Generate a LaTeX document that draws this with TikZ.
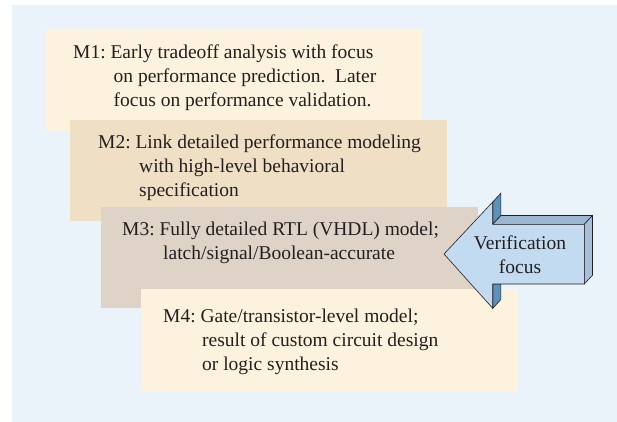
\documentclass[tikz,border=0pt]{standalone}
\usepackage{fontspec}
\setmainfont{Liberation Serif}
\frenchspacing
\definecolor{paleblue}{HTML}{EAF2FA}
\definecolor{cream}{HTML}{FDF2DD}
\definecolor{tan}{HTML}{EFE0C5}
\definecolor{greige}{HTML}{DFD3C7}
\definecolor{arrowfront}{HTML}{C3DBF1}
\definecolor{arrowdark}{HTML}{5A92BB}
\definecolor{arrowtop}{HTML}{9AB6D0}
\definecolor{arrowside}{HTML}{A7BFD8}
\definecolor{inkgray}{HTML}{231F20}

\begin{document}
\begin{tikzpicture}[x=1pt,y=-1pt,
    lbl/.style={anchor=base west,align=left,inner sep=0pt,text=inkgray,
      font=\rmfamily\fontsize{19.5}{24}\selectfont},
    face/.style={draw=inkgray,line width=0.6pt,line join=miter}]
		\useasboundingbox (0,0) rectangle (617,422);
		\fill[paleblue] (12,5) rectangle (617,422);
		
		% Model levels (labels placed by their last baseline)
		\fill[cream] (45,30) rectangle (422,131);
		\node[lbl] (m1) at (73,107) {M1: Early tradeoff analysis with focus\\
			\hspace*{40.5pt}on performance prediction.\ \ Later\\
			\hspace*{40.5pt}focus on performance validation.};
		
		\fill[tan] (70,120) rectangle (447,221);
		\node[lbl] (m2) at (98,196) {M2: Link detailed performance modeling\\
			\hspace*{41pt}with high-level behavioral\\
			\hspace*{41pt}specification};
		
		\fill[greige] (101,207) rectangle (478,308);
		\node[lbl] (m3) at (122,259) {M3: Fully detailed RTL (VHDL) model;\\
			\hspace*{41pt}latch/signal/Boolean-accurate};
		
		\fill[cream] (141,289) rectangle (518,391);
		\node[lbl] (m4) at (163,370) {M4: Gate/transistor-level model;\\
			\hspace*{39pt}result of custom circuit design\\
			\hspace*{39pt}or logic synthesis};
		
		% Arrow, front face and depth
		\coordinate (tip) at (444,254);
		\coordinate (headtop) at (492.7,202);
		\coordinate (shafttl) at (492.7,224.3);
		\coordinate (shafttr) at (584.3,224.3);
		\coordinate (shaftbr) at (584.3,284);
		\coordinate (shaftbl) at (492.7,284);
		\coordinate (headbot) at (492.7,308.3);
		\def\dep{++(8.2,-8.8)}
		
		\filldraw[face,fill=arrowdark] (headtop) -- \dep -- ([shift={(8.2,-8.8)}]shafttl) -- (shafttl) -- cycle;
		\filldraw[face,fill=arrowtop] (shafttl) -- ([shift={(8.2,-8.8)}]shafttl) -- ([shift={(8.2,-8.8)}]shafttr) -- (shafttr) -- cycle;
		\filldraw[face,fill=arrowside] (shafttr) -- ([shift={(8.2,-8.8)}]shafttr) -- ([shift={(8.2,-8.8)}]shaftbr) -- (shaftbr) -- cycle;
		\filldraw[face,fill=arrowdark] (shaftbl) -- (headbot) -- ([shift={(8.2,-8.8)}]headbot) -- (500.9,284) -- cycle;
		\filldraw[face,fill=arrowfront] (tip) -- (headtop) -- (shafttl) -- (shafttr) -- (shaftbr) -- (shaftbl) -- (headbot) -- cycle;
		\node[lbl,anchor=base,align=center] (verif) at (520,273) {Verification\\focus};
		
\end{tikzpicture}
\end{document}
